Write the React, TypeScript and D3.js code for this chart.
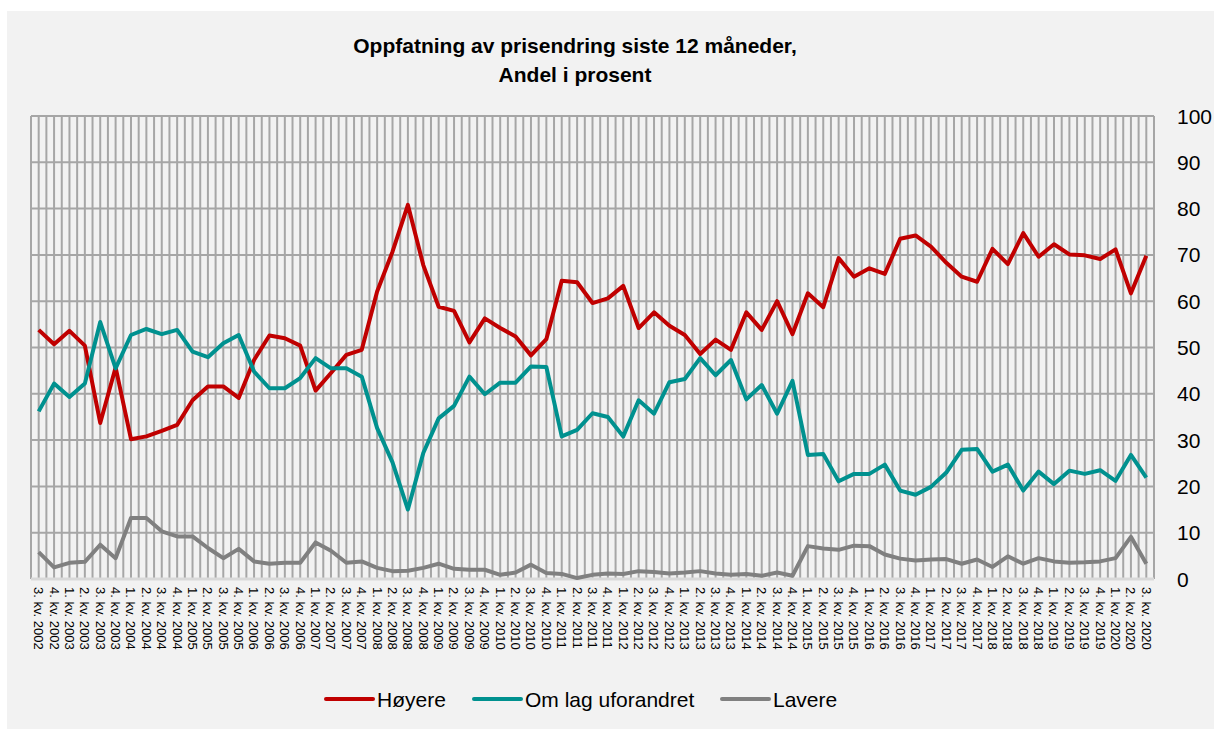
import React from "react";
import * as d3 from "d3";

// quarters, 3. kv. 2002 – 3. kv. 2020
const quarters = [
  "3. kv. 2002", "4. kv. 2002",
  "1. kv. 2003", "2. kv. 2003", "3. kv. 2003", "4. kv. 2003",
  "1. kv. 2004", "2. kv. 2004", "3. kv. 2004", "4. kv. 2004",
  "1. kv. 2005", "2. kv. 2005", "3. kv. 2005", "4. kv. 2005",
  "1. kv. 2006", "2. kv. 2006", "3. kv. 2006", "4. kv. 2006",
  "1. kv. 2007", "2. kv. 2007", "3. kv. 2007", "4. kv. 2007",
  "1. kv. 2008", "2. kv. 2008", "3. kv. 2008", "4. kv. 2008",
  "1. kv. 2009", "2. kv. 2009", "3. kv. 2009", "4. kv. 2009",
  "1. kv. 2010", "2. kv. 2010", "3. kv. 2010", "4. kv. 2010",
  "1. kv. 2011", "2. kv. 2011", "3. kv. 2011", "4. kv. 2011",
  "1. kv. 2012", "2. kv. 2012", "3. kv. 2012", "4. kv. 2012",
  "1. kv. 2013", "2. kv. 2013", "3. kv. 2013", "4. kv. 2013",
  "1. kv. 2014", "2. kv. 2014", "3. kv. 2014", "4. kv. 2014",
  "1. kv. 2015", "2. kv. 2015", "3. kv. 2015", "4. kv. 2015",
  "1. kv. 2016", "2. kv. 2016", "3. kv. 2016", "4. kv. 2016",
  "1. kv. 2017", "2. kv. 2017", "3. kv. 2017", "4. kv. 2017",
  "1. kv. 2018", "2. kv. 2018", "3. kv. 2018", "4. kv. 2018",
  "1. kv. 2019", "2. kv. 2019", "3. kv. 2019", "4. kv. 2019",
  "1. kv. 2020", "2. kv. 2020", "3. kv. 2020",
];

const hoyere = [
  53.8, 50.7, 53.6, 50.4, 33.7, 45.7, 30.2, 30.8, 32.0, 33.3,
  38.6, 41.6, 41.6, 39.1, 47.3, 52.6, 52.0, 50.4, 40.7, 44.5,
  48.4, 49.5, 62.1, 70.7, 80.8, 67.8, 58.8, 57.9, 51.1, 56.3,
  54.2, 52.4, 48.3, 51.8, 64.4, 64.1, 59.6, 60.6, 63.3, 54.2,
  57.6, 54.7, 52.7, 48.6, 51.7, 49.5, 57.6, 53.8, 60.0, 52.9,
  61.7, 58.7, 69.3, 65.3, 67.1, 65.9, 73.5, 74.2, 71.8, 68.3,
  65.3, 64.2, 71.3, 68.0, 74.7, 69.6, 72.3, 70.1, 69.9, 69.1,
  71.2, 61.7, 69.8,
];

const uforandret = [
  36.2, 42.2, 39.3, 42.2, 55.5, 45.5, 52.7, 54.0, 52.9, 53.8,
  49.1, 47.9, 50.9, 52.7, 44.8, 41.2, 41.2, 43.4, 47.7, 45.5,
  45.5, 43.7, 32.6, 25.2, 15.0, 27.2, 34.7, 37.4, 43.7, 39.9,
  42.4, 42.4, 45.9, 45.8, 30.8, 32.2, 35.8, 35.0, 30.8, 38.6,
  35.7, 42.5, 43.2, 47.7, 44.0, 47.3, 38.8, 41.9, 35.7, 42.8,
  26.8, 27.0, 21.1, 22.7, 22.7, 24.7, 19.1, 18.2, 19.9, 23.0,
  27.9, 28.1, 23.2, 24.7, 19.1, 23.2, 20.5, 23.4, 22.7, 23.5,
  21.2, 26.8, 21.9,
];

const lavere = [
  5.8, 2.5, 3.5, 3.7, 7.4, 4.5, 13.2, 13.2, 10.3, 9.2,
  9.2, 6.7, 4.5, 6.5, 3.8, 3.3, 3.5, 3.5, 7.9, 6.1,
  3.5, 3.8, 2.4, 1.7, 1.8, 2.4, 3.3, 2.2, 2.0, 2.0,
  0.9, 1.4, 3.1, 1.3, 1.1, 0.2, 0.9, 1.2, 1.1, 1.7,
  1.5, 1.2, 1.4, 1.7, 1.2, 0.9, 1.1, 0.7, 1.4, 0.7,
  7.1, 6.6, 6.3, 7.2, 7.1, 5.3, 4.4, 4.0, 4.2, 4.3,
  3.3, 4.2, 2.6, 4.9, 3.3, 4.5, 3.8, 3.5, 3.6, 3.8,
  4.5, 9.1, 3.3,
];

const yTicks = [0, 10, 20, 30, 40, 50, 60, 70, 80, 90, 100];

const seriesNames = ["Høyere", "Om lag uforandret", "Lavere"];
const seriesColors = ["#c00000", "#00918f", "#808080"];

const W = 1214;
const H = 729;
const plot = { left: 31, right: 1154, top: 116, bottom: 579 };
const font = "Arial, 'Liberation Sans', sans-serif";

export default function App() {
  const x = d3
    .scaleBand<string>()
    .domain(quarters)
    .range([plot.left, plot.right])
    .padding(0);
  const bw = x.bandwidth();
  const cx = (q: string) => (x(q) as number) + bw / 2;
  const y = d3.scaleLinear().domain([0, 100]).range([plot.bottom, plot.top]);

  const line = d3
    .line<number>()
    .x((_, i) => cx(quarters[i]))
    .y((d) => y(d));

  const series = [hoyere, uforandret, lavere];

  // gridlines at band edges and band centres
  const vLines: number[] = [];
  quarters.forEach((q) => {
    vLines.push(x(q) as number);
    vLines.push(cx(q));
  });
  vLines.push(plot.right);

  const legendX = [326, 474, 722];

  return (
    <svg
      width={W}
      height={H}
      style={{ position: "absolute", left: 0, top: 0, fontFamily: font }}
    >
      <rect x={7} y={11} width={W - 7} height={H - 11} fill="#f2f2f2" />

      <text textAnchor="middle" fontWeight="bold" fontSize={21} fill="#000">
        <tspan x={575} y={53}>Oppfatning av prisendring siste 12 måneder,</tspan>
        <tspan x={575} y={82}>Andel i prosent</tspan>
      </text>

      {/* grid */}
      <g stroke="#a6a6a6" strokeWidth={2}>
        {vLines.map((vx, i) => (
          <line key={"v" + i} x1={vx} x2={vx} y1={plot.top} y2={plot.bottom} />
        ))}
        {yTicks.map((t) => (
          <line key={"h" + t} x1={plot.left} x2={plot.right} y1={y(t)} y2={y(t)} />
        ))}
      </g>
      <line
        x1={plot.left}
        x2={plot.right}
        y1={plot.bottom}
        y2={plot.bottom}
        stroke="#d9d9d9"
        strokeWidth={3}
      />

      {/* right axis labels */}
      {yTicks.map((t) => (
        <text
          key={"yl" + t}
          x={1177}
          y={y(t)}
          dy="0.36em"
          fontSize={21}
          fill="#000"
        >
          {t}
        </text>
      ))}

      {/* x labels */}
      {quarters.map((q) => (
        <text
          key={q}
          transform={`translate(${cx(q)},${plot.bottom + 8}) rotate(90)`}
          dy="0.35em"
          fontSize={13}
          fill="#000"
        >
          {q}
        </text>
      ))}

      {/* series */}
      {series.map((s, i) => (
        <path
          key={seriesNames[i]}
          d={line(s) as string}
          fill="none"
          stroke={seriesColors[i]}
          strokeWidth={4}
          strokeLinejoin="round"
        />
      ))}

      {/* legend */}
      {seriesNames.map((n, i) => (
        <g key={"lg" + n}>
          <line
            x1={legendX[i]}
            x2={legendX[i] + 47}
            y1={699}
            y2={699}
            stroke={seriesColors[i]}
            strokeWidth={4}
            strokeLinecap="round"
          />
          <text x={legendX[i] + 51} y={707} fontSize={21} fill="#000">
            {n}
          </text>
        </g>
      ))}
    </svg>
  );
}
